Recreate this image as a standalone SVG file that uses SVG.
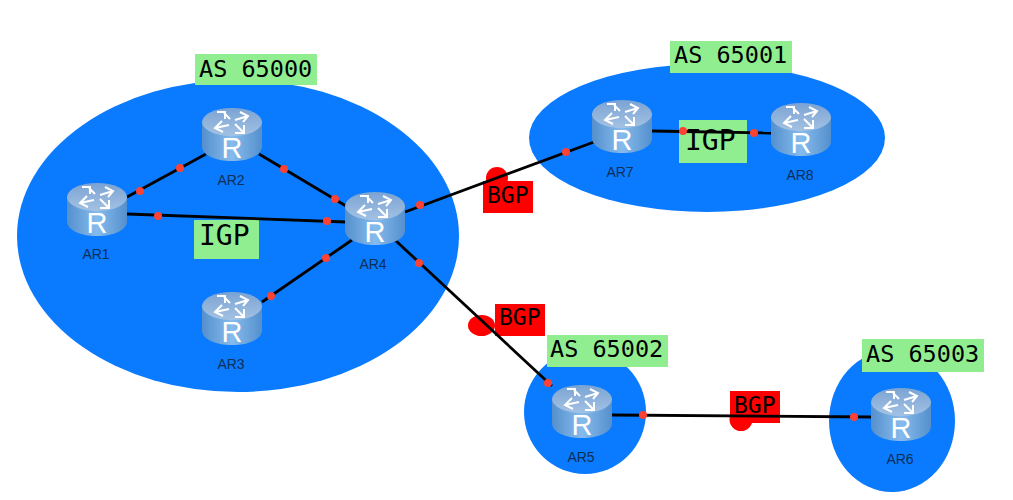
<svg xmlns="http://www.w3.org/2000/svg" width="1013" height="500" viewBox="0 0 1013 500">
<style>
.as{fill:#0a7bff}
.tag{fill:#90ee90}
.red{fill:#ff0000}
.mono{font-family:"DejaVu Sans Mono","Liberation Mono",monospace;fill:#000}
.l24{font-size:23.5px}
.l26{font-size:28px}
.l22{font-size:23px}
.name{font-family:"Liberation Sans",Arial,sans-serif;font-size:14px;fill:#0c2f55;text-anchor:middle}
.r{font-family:"Liberation Sans",Arial,sans-serif;font-size:29px;fill:#fff;text-anchor:middle}
.link{stroke:#000;stroke-width:2.8;fill:none}
.dot{fill:#fb4234}
</style>
<defs>
<linearGradient id="body" x1="0" x2="1" y1="0" y2="0">
<stop offset="0" stop-color="#5590cd"/><stop offset="0.5" stop-color="#86bbec"/><stop offset="1" stop-color="#5590cd"/>
</linearGradient>
<linearGradient id="top" x1="0" x2="0" y1="0" y2="1">
<stop offset="0" stop-color="#7ba3d2"/><stop offset="1" stop-color="#a3c2e4"/>
</linearGradient>
<g id="router">
<path d="M0 13V38C0 47 13 53 30 53S60 47 60 38V13Z" fill="url(#body)"/>
<ellipse cx="30" cy="14" rx="30" ry="14" fill="url(#top)"/>
<g fill="none" stroke="#fff" stroke-width="2">
<path d="M28 11L22 5M15 4l8 0l0 7"/>
<path d="M33 12L46 8M38 4l8 4l-5 6"/>
<path d="M27 17L13 20M20 13l-7 7l8 4"/>
<path d="M33 16L41 24M33 25l9 0l0-8"/>
</g>
</g>
</defs>
<rect width="1013" height="500" fill="#fff"/>
<g id="domains">
<ellipse class="as" cx="238" cy="236" rx="221" ry="156"/>
<ellipse class="as" cx="707" cy="138" rx="178" ry="74"/>
<ellipse class="as" cx="585" cy="412" rx="61" ry="62"/>
<ellipse class="as" cx="892" cy="421" rx="63" ry="71"/>
</g>
<g id="labels">
<g id="as65000"><rect class="tag" x="195" y="54" width="122" height="31"/><text class="mono l24" x="199" y="77">AS 65000</text></g>
<g id="as65001"><rect class="tag" x="670" y="41" width="122" height="32"/><text class="mono l24" x="674" y="63">AS 65001</text></g>
<g id="as65002"><rect class="tag" x="547" y="335" width="121" height="32"/><text class="mono l24" x="550" y="357">AS 65002</text></g>
<g id="as65003"><rect class="tag" x="862" y="339" width="122" height="33"/><text class="mono l24" x="866" y="362">AS 65003</text></g>
<g id="igp1"><rect class="tag" x="194" y="220" width="65" height="39"/><text class="mono l26" x="199" y="245">IGP</text></g>
<g id="igp2"><rect class="tag" x="679" y="120" width="68" height="43"/><text class="mono l26" x="685" y="150">IGP</text></g>
<g id="bgp1"><circle class="red" cx="497" cy="178" r="11"/><rect class="red" x="483" y="181" width="50" height="32"/><text class="mono l22" x="487" y="203">BGP</text></g>
<g id="bgp2"><ellipse class="red" cx="481.500" cy="325.500" rx="13.500" ry="10.500"/><rect class="red" x="495" y="304" width="50" height="32"/><text class="mono l22" x="499" y="325">BGP</text></g>
<g id="bgp3"><circle class="red" cx="741" cy="419.500" r="11.500"/><rect class="red" x="730" y="391" width="50" height="32"/><text class="mono l22" x="734" y="413">BGP</text></g>
</g>
<g id="connectors">
<line class="link" x1="127" y1="197" x2="206" y2="154"/>
<line class="link" x1="259" y1="154" x2="346" y2="206"/>
<line class="link" x1="127" y1="214" x2="346" y2="222"/>
<line class="link" x1="262" y1="302" x2="352" y2="240"/>
<line class="link" x1="405" y1="212" x2="594" y2="142"/>
<line class="link" x1="395" y1="240" x2="552" y2="386"/>
<line class="link" x1="652" y1="131" x2="771" y2="133"/>
<line class="link" x1="612" y1="415" x2="871" y2="417"/>
<g class="dot">
<circle cx="140" cy="191" r="4"/><circle cx="180" cy="168" r="4"/>
<circle cx="284" cy="169" r="4"/><circle cx="335" cy="199" r="4"/>
<circle cx="158" cy="216" r="4"/><circle cx="327" cy="221" r="4"/>
<circle cx="271" cy="296" r="4"/><circle cx="326" cy="258" r="4"/>
<circle cx="420" cy="205" r="4"/><circle cx="566" cy="152" r="4"/>
<circle cx="419" cy="263" r="4"/><circle cx="548" cy="383" r="4"/>
<circle cx="683" cy="131" r="4"/><circle cx="754" cy="133" r="4"/>
<circle cx="643" cy="415" r="4"/><circle cx="854" cy="417" r="4"/>
</g>
</g>
<g id="AR1"><use href="#router" x="67" y="183"/><text class="r" x="97" y="233">R</text><text class="name" x="96" y="259">AR1</text></g>
<g id="AR2"><use href="#router" x="202" y="108"/><text class="r" x="232" y="158">R</text><text class="name" x="231" y="185">AR2</text></g>
<g id="AR3"><use href="#router" x="202" y="292"/><text class="r" x="232" y="342">R</text><text class="name" x="231" y="369">AR3</text></g>
<g id="AR4"><use href="#router" x="345" y="192"/><text class="r" x="375" y="242">R</text><text class="name" x="373" y="269">AR4</text></g>
<g id="AR5"><use href="#router" x="552" y="385"/><text class="r" x="582" y="435">R</text><text class="name" x="581" y="462">AR5</text></g>
<g id="AR6"><use href="#router" x="871" y="388"/><text class="r" x="901" y="438">R</text><text class="name" x="900" y="464">AR6</text></g>
<g id="AR7"><use href="#router" x="592" y="100"/><text class="r" x="622" y="150">R</text><text class="name" x="620" y="177">AR7</text></g>
<g id="AR8"><use href="#router" x="771" y="103"/><text class="r" x="801" y="153">R</text><text class="name" x="800" y="180">AR8</text></g>
</svg>
